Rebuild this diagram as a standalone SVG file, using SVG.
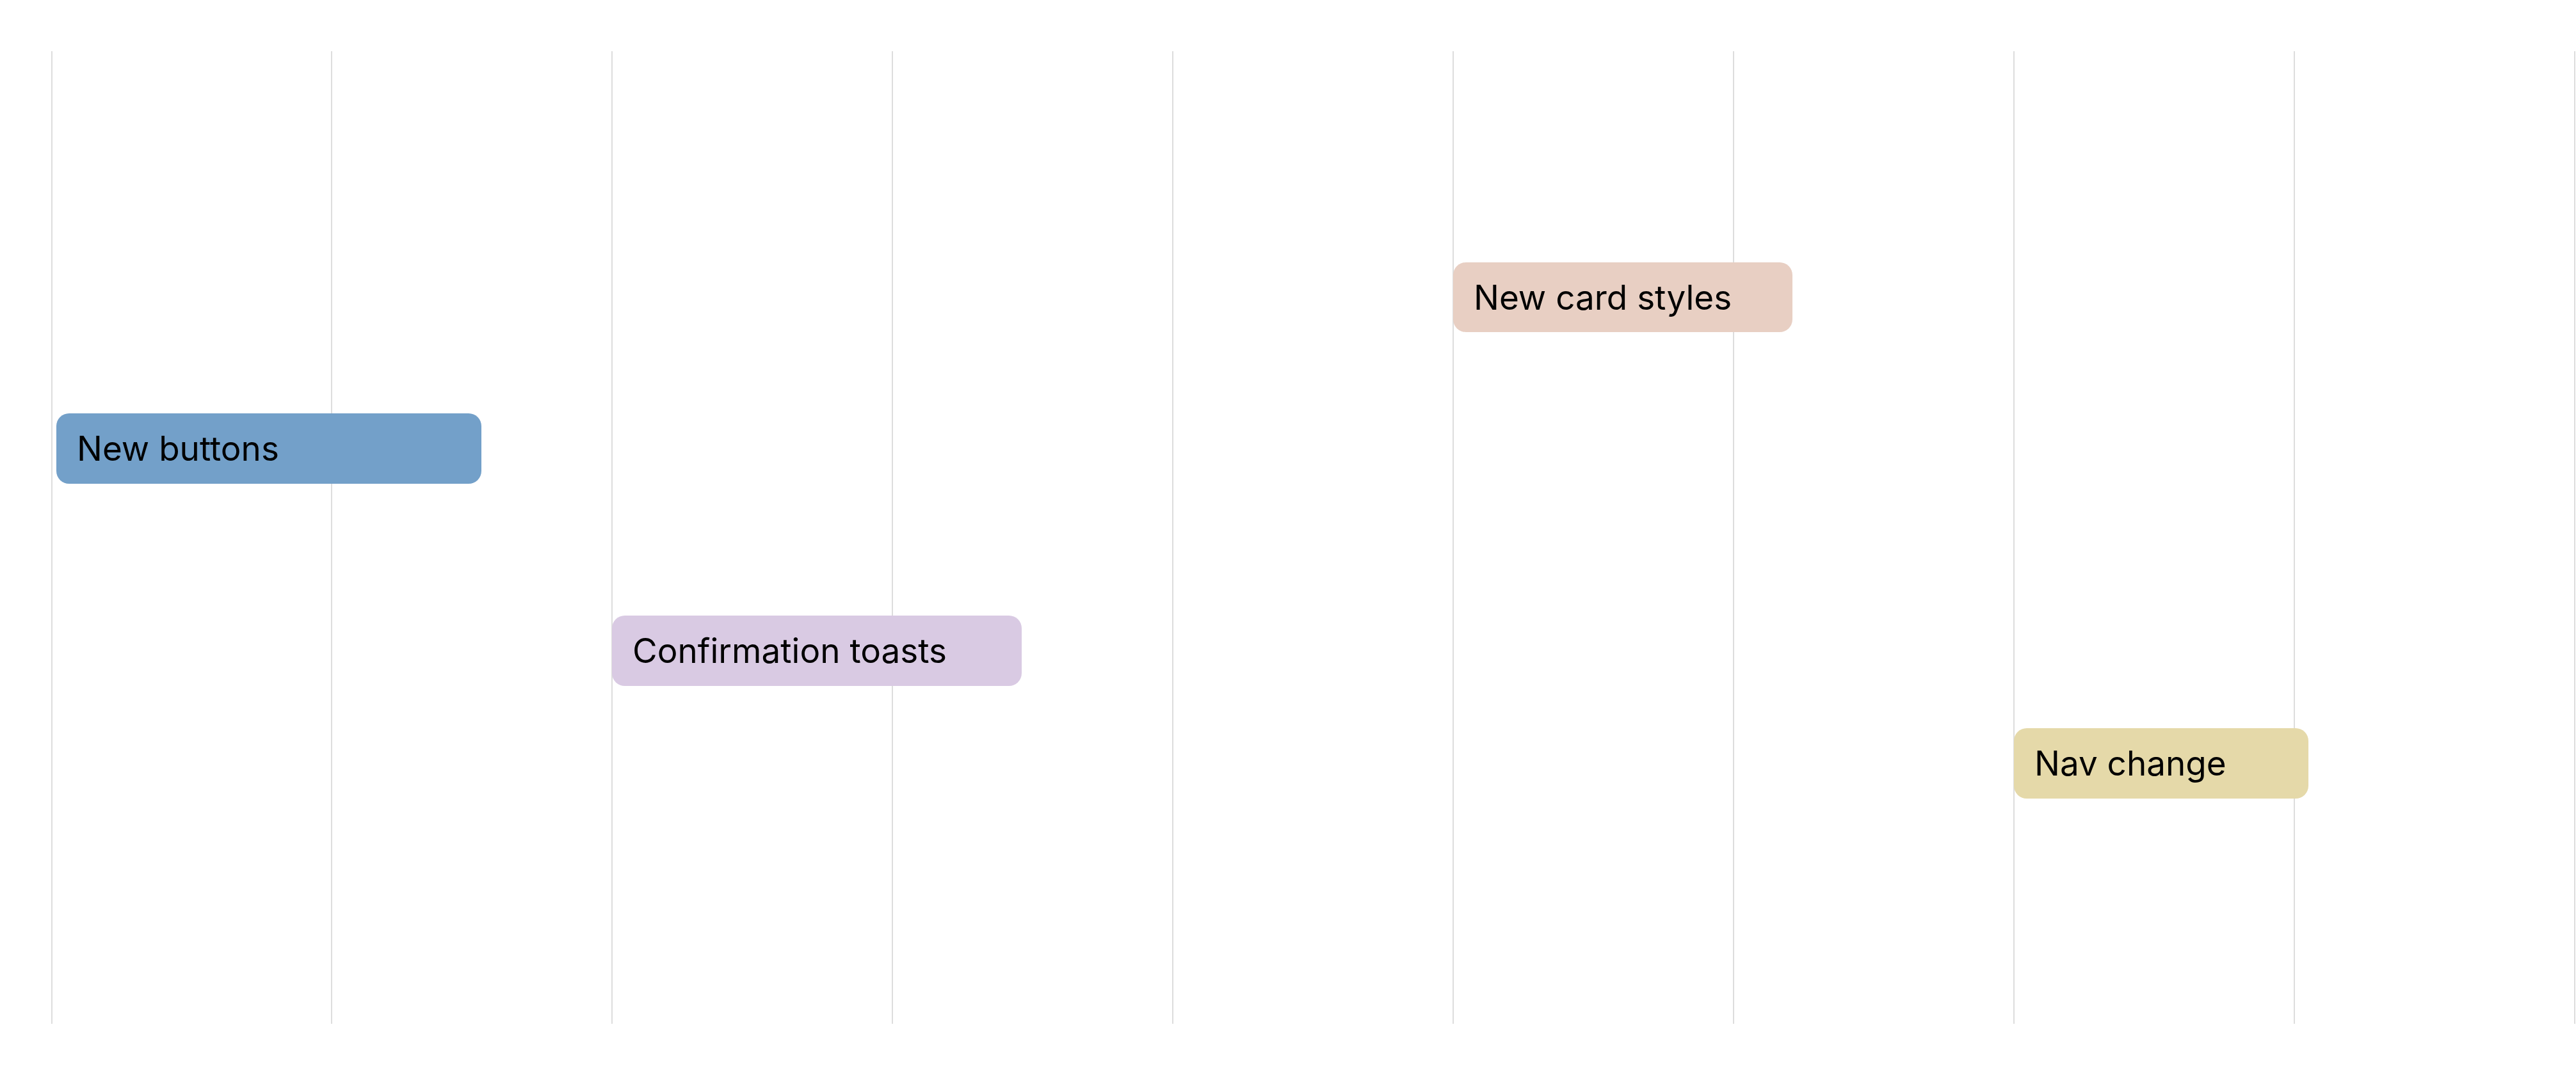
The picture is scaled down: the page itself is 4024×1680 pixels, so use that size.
<svg xmlns="http://www.w3.org/2000/svg" width="4024" height="1680" viewBox="0 0 4024 1680">
<style>
.grid line{stroke:#dddddd;stroke-width:2}
.bar{stroke:none}
.lbl{font-family:Inter,"Noto Sans","Liberation Sans",sans-serif;font-size:53px;fill:#000000}
</style>
<rect width="4024" height="1680" fill="#ffffff"/>
<g id="grid" class="grid">
<line x1="81" y1="80" x2="81" y2="1600"/>
<line x1="518" y1="80" x2="518" y2="1600"/>
<line x1="956" y1="80" x2="956" y2="1600"/>
<line x1="1394" y1="80" x2="1394" y2="1600"/>
<line x1="1832" y1="80" x2="1832" y2="1600"/>
<line x1="2270" y1="80" x2="2270" y2="1600"/>
<line x1="2708" y1="80" x2="2708" y2="1600"/>
<line x1="3146" y1="80" x2="3146" y2="1600"/>
<line x1="3584" y1="80" x2="3584" y2="1600"/>
<line x1="4022" y1="80" x2="4022" y2="1600"/>
</g>
<g id="connectors"></g>
<g id="new-buttons">
<rect class="bar" x="88" y="646" width="664" height="110" rx="20" fill="#73a0c9"/>
<text class="lbl" x="120" y="720">New buttons</text>
</g>
<g id="confirmation-toasts">
<rect class="bar" x="956" y="962" width="640" height="110" rx="20" fill="#d9cae3"/>
<text class="lbl" x="988" y="1036">Confirmation toasts</text>
</g>
<g id="new-card-styles">
<rect class="bar" x="2270" y="410" width="530" height="109" rx="20" fill="#e8cfc3"/>
<text class="lbl" x="2302" y="484">New card styles</text>
</g>
<g id="nav-change">
<rect class="bar" x="3146" y="1138" width="460" height="110" rx="20" fill="#e5d9a9"/>
<text class="lbl" x="3178" y="1212">Nav change</text>
</g>
</svg>
